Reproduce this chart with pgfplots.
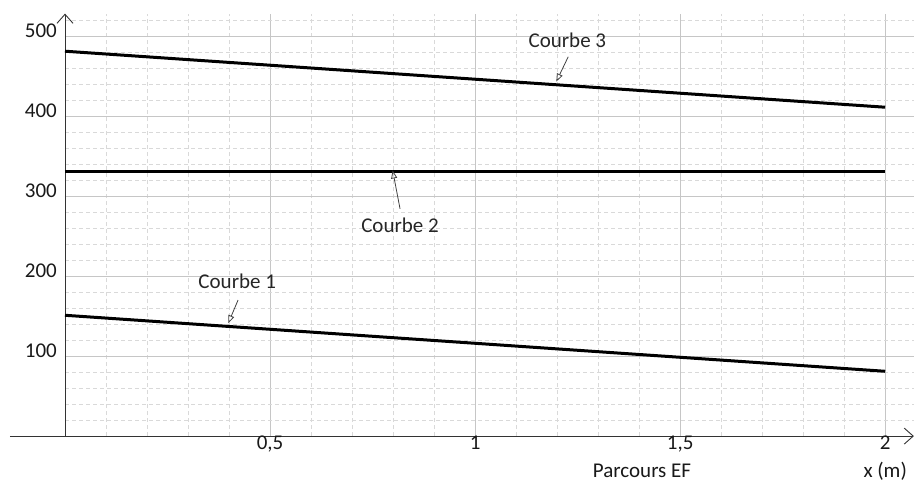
\documentclass[border=0pt]{standalone}
\usepackage{fontspec}
\setmainfont{Carlito}
\usepackage{pgfplots}
\pgfplotsset{compat=1.18}
\usetikzlibrary{arrows.meta}
\begin{document}
\fontsize{21}{24}\selectfont
\begin{tikzpicture}
\begin{axis}[
  x=410pt, y=0.8pt,
  xmin=0, xmax=2.07, ymin=0, ymax=528,
  axis lines=left,
  x axis line style={-{Straight Barb[length=9pt,width=16pt]}, shorten <=-55pt, line width=0.9pt, black!80},
  y axis line style={-{Straight Barb[length=9pt,width=16pt]}, line width=0.9pt, black!80},
  xtick={0.5,1,1.5,2}, ytick={100,200,300,400,500},
  minor xtick={0.1,0.2,...,2.05}, minor ytick={20,40,...,520},
  grid=both,
  major grid style={solid, gray!45, line width=0.7pt},
  minor grid style={dash pattern=on 4pt off 3pt, gray!30, line width=0.6pt},
  major tick length=0pt, minor tick length=0pt,
  /pgf/number format/use comma,
  /pgf/number format/assume math mode=true,
  ticklabel style={font=\fontsize{21}{24}\selectfont, text=black!90},
  xticklabel style={yshift=1pt, inner sep=1pt},
  yticklabel style={yshift=5pt, xshift=-1pt},
  clip=false,
]
\path (axis cs:-0.1585,-66) rectangle (axis cs:2.080,545);
% courbe 3
\addplot[black, line width=3pt] coordinates {(0,481) (2,411)};
% courbe 2
\addplot[black, line width=3pt] coordinates {(0,331) (2,331)};
% courbe 1
\addplot[black, line width=3pt] coordinates {(0,151) (2,81)};
% annotations
\draw[black!75, line width=0.8pt, -{Triangle[open,length=8pt,width=6pt]}] (axis cs:1.227,474) -- (axis cs:1.198,443);
\node[text=black!85] at (axis cs:1.225,495) {Courbe 3};
\draw[black!75, line width=0.8pt, -{Triangle[open,length=8pt,width=6pt]}] (axis cs:0.817,284) -- (axis cs:0.799,332);
\node[text=black!85] at (axis cs:0.817,264) {Courbe 2};
\draw[black!75, line width=0.8pt, -{Triangle[open,length=8pt,width=6pt]}] (axis cs:0.422,170) -- (axis cs:0.398,141);
\node[text=black!85] at (axis cs:0.42,193) {Courbe 1};
\node[text=black!90, inner sep=1pt] at (axis cs:1.407,-44) {Parcours EF};
\node[text=black!90, inner sep=1pt] at (axis cs:2.0,-44) {x (m)};
\end{axis}
\end{tikzpicture}
\end{document}
